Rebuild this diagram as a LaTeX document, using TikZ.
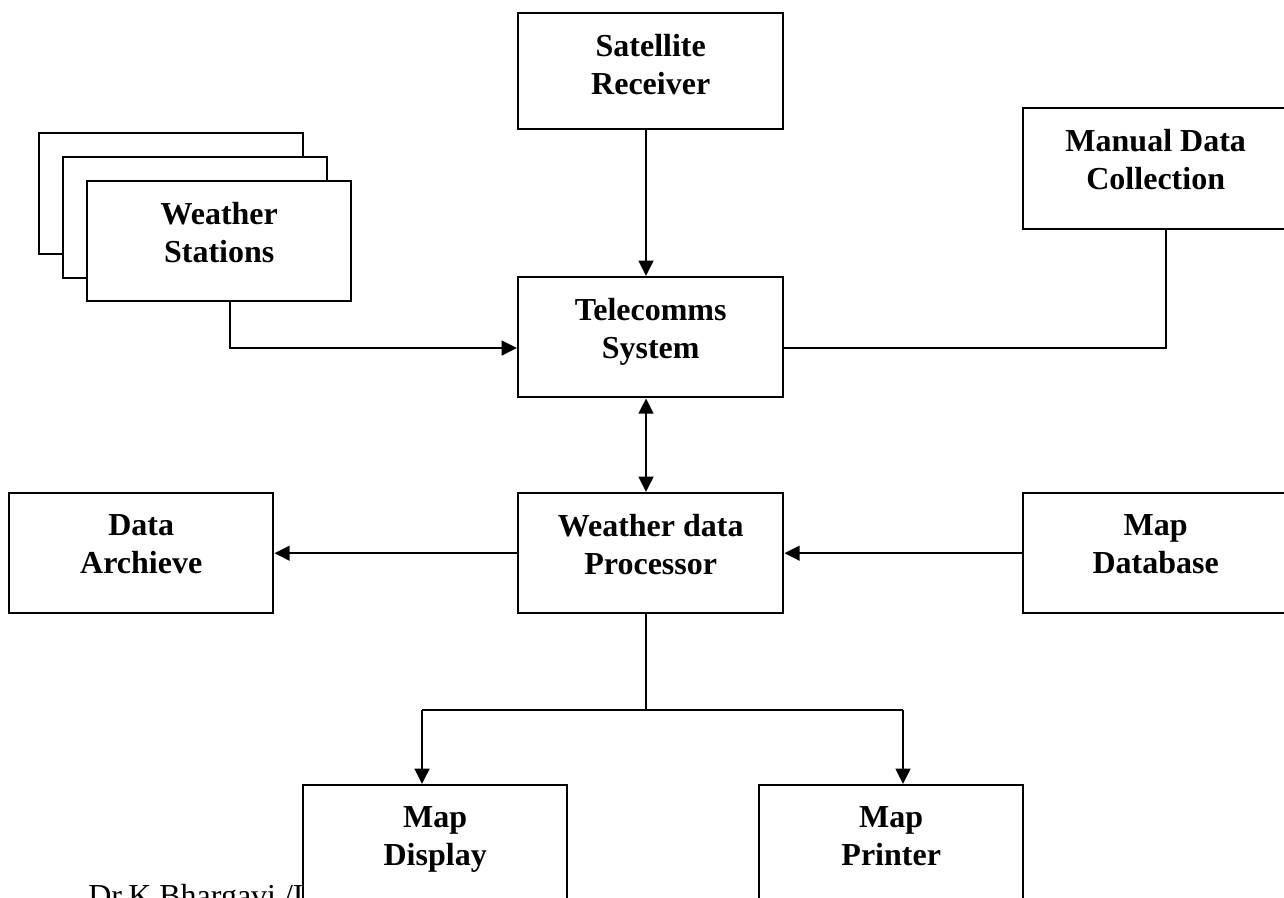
\documentclass[tikz,border=0pt]{standalone}
\usepackage{fontspec}
\setmainfont{Liberation Serif}
\usetikzlibrary{arrows.meta,calc}
\begin{document}
\begin{tikzpicture}[x=0.75pt,y=-0.75pt,
  box/.style={draw, line width=1.8pt, fill=white, inner sep=0, anchor=north west},
  lbl/.style={font=\fontsize{24}{28.5}\selectfont\bfseries, align=center, inner sep=0, anchor=north},
  conn/.style={line width=1.8pt},
  arr/.style={conn, -{Triangle[length=11.5pt,width=11pt]}},
  darr/.style={conn, {Triangle[length=11.5pt,width=11pt]}-{Triangle[length=11.5pt,width=11pt]}},
]
\useasboundingbox (0,0) rectangle (1284,897);
\clip (0,0) rectangle (1284,897);

% footer (partly hidden behind Map Display, cut at the page edge as in the reference)
\node[font=\fontsize{24}{28}\selectfont, anchor=base west, inner sep=0] (foot) at (88,906) {Dr.K.Bhargavi /I};

% boxes
\node[box, minimum width=265*0.75pt, minimum height=116*0.75pt] (sat) at (517,12) {};
\node[box, minimum width=265*0.75pt, minimum height=121*0.75pt] (man) at (1022,107) {};
\node[box, minimum width=264*0.75pt, minimum height=121*0.75pt] (ws3) at (38,132) {};
\node[box, minimum width=264*0.75pt, minimum height=121*0.75pt] (ws2) at (62,156) {};
\node[box, minimum width=264*0.75pt, minimum height=120*0.75pt] (ws1) at (86,180) {};
\node[box, minimum width=265*0.75pt, minimum height=120*0.75pt] (tel) at (517,276) {};
\node[box, minimum width=265*0.75pt, minimum height=120*0.75pt] (proc) at (517,492) {};
\node[box, minimum width=264*0.75pt, minimum height=120*0.75pt] (arch) at (8,492) {};
\node[box, minimum width=265*0.75pt, minimum height=120*0.75pt] (mapdb) at (1022,492) {};
\node[box, minimum width=264*0.75pt, minimum height=130*0.75pt] (disp) at (302,784) {};
\node[box, minimum width=264*0.75pt, minimum height=130*0.75pt] (prn) at (758,784) {};

% labels
\node[lbl] (satT) at ($(sat.north)+(0,22)$) {Satellite\\Receiver};
\node[lbl] (manT) at ($(man.north)+(0,22)$) {Manual Data\\Collection};
\node[lbl] (wsT) at ($(ws1.north)+(0,22)$) {Weather\\Stations};
\node[lbl] (telT) at ($(tel.north)+(0,22)$) {Telecomms\\System};
\node[lbl] (procT) at ($(proc.north)+(0,22)$) {Weather data\\Processor};
\node[lbl] (archT) at ($(arch.north)+(0,22)$) {Data\\Archieve};
\node[lbl] (mapdbT) at ($(mapdb.north)+(0,22)$) {Map\\Database};
\node[lbl] (dispT) at ($(disp.north)+(0,22)$) {Map\\Display};
\node[lbl] (prnT) at ($(prn.north)+(0,22)$) {Map\\Printer};

% helper coordinates
\coordinate (stem) at (646,0);
\coordinate (wsx) at (230,348);
\coordinate (mx) at (1166,0);
\coordinate (jn) at (646,710);
\coordinate (dl) at (422,710);
\coordinate (dr) at (903,710);

% connectors
\draw[arr] (sat.south -| stem) -- (tel.north -| stem);
\draw[arr] (ws1.south -| wsx) |- (tel.west |- wsx);
\draw[conn] (tel.east |- wsx) -| (man.south -| mx);
\draw[darr] (tel.south -| stem) -- (proc.north -| stem);
\draw[arr] (proc.west) -- (arch.east);
\draw[arr] (mapdb.west) -- (proc.east);
\draw[conn] (proc.south -| jn) -- (jn);
\draw[conn] (dl) -- (dr);
\draw[arr] (dl) -- (disp.north -| dl);
\draw[arr] (dr) -- (prn.north -| dr);
\end{tikzpicture}
\end{document}
